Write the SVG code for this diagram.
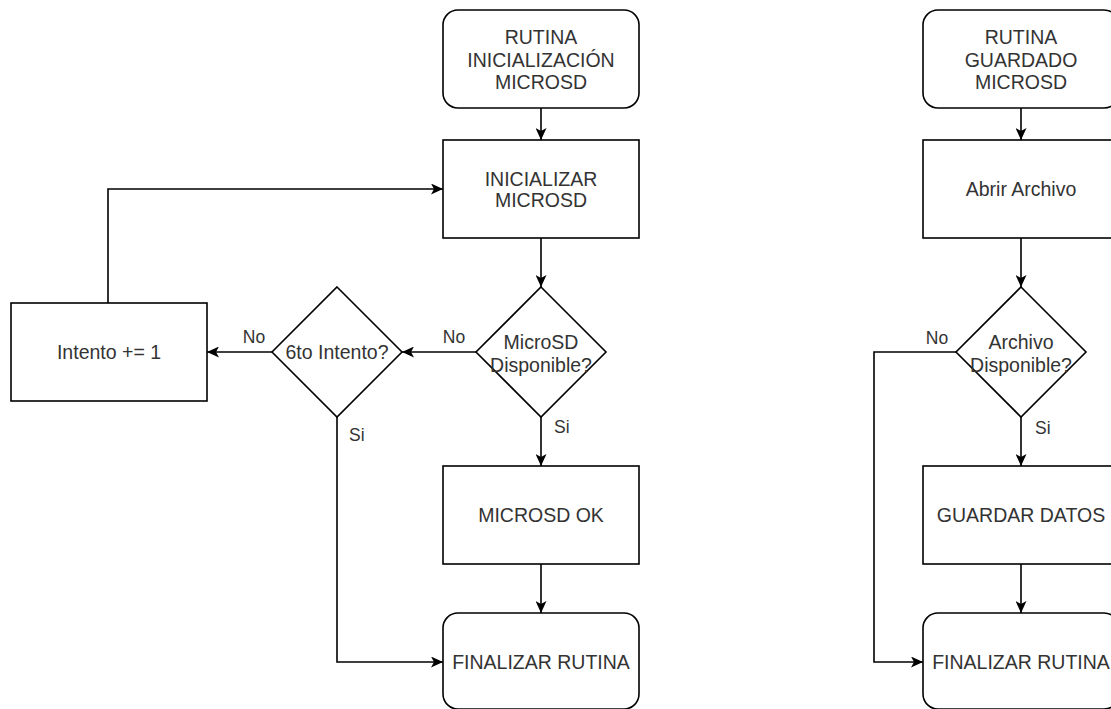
<svg xmlns="http://www.w3.org/2000/svg" width="1111" height="709" viewBox="0 0 1111 709">
<style>
.shape{fill:#ffffff;stroke:#000000;stroke-width:1.6}
.t{font-family:"Liberation Sans",Arial,sans-serif;font-size:19.5px;fill:#333333;text-anchor:middle}
.lbl{font-family:"Liberation Sans",Arial,sans-serif;font-size:17.5px;fill:#333333}
.edge{fill:none;stroke:#000000;stroke-width:1.6}
</style>
<defs>
<marker id="arr" viewBox="0 0 12 11" refX="12" refY="5.5" markerWidth="12" markerHeight="11" markerUnits="userSpaceOnUse" orient="auto">
<path d="M0,0 L12,5.5 L0,11 L3,5.5 Z" fill="#000000"/>
</marker>
</defs>
<rect width="1111" height="709" fill="#ffffff"/>
<g id="connectors">
<path class="edge" d="M541,108 L541,140" marker-end="url(#arr)"/>
<path class="edge" d="M541,238 L541,287" marker-end="url(#arr)"/>
<path class="edge" d="M541,417 L541,466" marker-end="url(#arr)"/>
<path class="edge" d="M541,564 L541,613" marker-end="url(#arr)"/>
<path class="edge" d="M476,352 L402,352" marker-end="url(#arr)"/>
<path class="edge" d="M272,352 L207,352" marker-end="url(#arr)"/>
<path class="edge" d="M108,303 L108,189 L443,189" marker-end="url(#arr)"/>
<path class="edge" d="M337,417 L337,662 L443,662" marker-end="url(#arr)"/>
<path class="edge" d="M1021,108 L1021,140" marker-end="url(#arr)"/>
<path class="edge" d="M1021,238 L1021,287" marker-end="url(#arr)"/>
<path class="edge" d="M1021,417 L1021,466" marker-end="url(#arr)"/>
<path class="edge" d="M1021,564 L1021,613" marker-end="url(#arr)"/>
<path class="edge" d="M956,352 L874,352 L874,662 L923,662" marker-end="url(#arr)"/>
<text class="lbl" x="454" y="343" text-anchor="middle">No</text>
<text class="lbl" x="254" y="343" text-anchor="middle">No</text>
<text class="lbl" x="349" y="441">Si</text>
<text class="lbl" x="554" y="433">Si</text>
<text class="lbl" x="937" y="344" text-anchor="middle">No</text>
<text class="lbl" x="1035" y="434">Si</text>
</g>
<g id="start1">
<rect class="shape" x="443" y="10" width="196" height="98" rx="15" ry="15"/>
<text class="t" x="541" y="44">RUTINA</text>
<text class="t" x="541" y="67">INICIALIZACIÓN</text>
<text class="t" x="541" y="89">MICROSD</text>
</g>
<g id="init">
<rect class="shape" x="443" y="140" width="196" height="98"/>
<text class="t" x="541" y="186">INICIALIZAR</text>
<text class="t" x="541" y="207">MICROSD</text>
</g>
<g id="dec1">
<polygon class="shape" points="541,287 606,352 541,417 476,352"/>
<text class="t" x="541" y="349">MicroSD</text>
<text class="t" x="541" y="372">Disponible?</text>
</g>
<g id="dec2">
<polygon class="shape" points="337,287 402,352 337,417 272,352"/>
<text class="t" x="337" y="359">6to Intento?</text>
</g>
<g id="intento">
<rect class="shape" x="11" y="303" width="196" height="98"/>
<text class="t" x="109" y="359">Intento += 1</text>
</g>
<g id="ok">
<rect class="shape" x="443" y="466" width="196" height="98"/>
<text class="t" x="541" y="522">MICROSD OK</text>
</g>
<g id="end1">
<rect class="shape" x="443" y="613" width="196" height="96" rx="15" ry="15"/>
<text class="t" x="541" y="669">FINALIZAR RUTINA</text>
</g>
<g id="start2">
<rect class="shape" x="923" y="10" width="196" height="98" rx="15" ry="15"/>
<text class="t" x="1021" y="44">RUTINA</text>
<text class="t" x="1021" y="67">GUARDADO</text>
<text class="t" x="1021" y="89">MICROSD</text>
</g>
<g id="abrir">
<rect class="shape" x="923" y="140" width="196" height="98"/>
<text class="t" x="1021" y="196">Abrir Archivo</text>
</g>
<g id="dec3">
<polygon class="shape" points="1021,287 1086,352 1021,417 956,352"/>
<text class="t" x="1021" y="349">Archivo</text>
<text class="t" x="1021" y="372">Disponible?</text>
</g>
<g id="guardar">
<rect class="shape" x="923" y="466" width="196" height="98"/>
<text class="t" x="1021" y="522">GUARDAR DATOS</text>
</g>
<g id="end2">
<rect class="shape" x="923" y="613" width="196" height="96" rx="15" ry="15"/>
<text class="t" x="1021" y="669">FINALIZAR RUTINA</text>
</g>
</svg>
